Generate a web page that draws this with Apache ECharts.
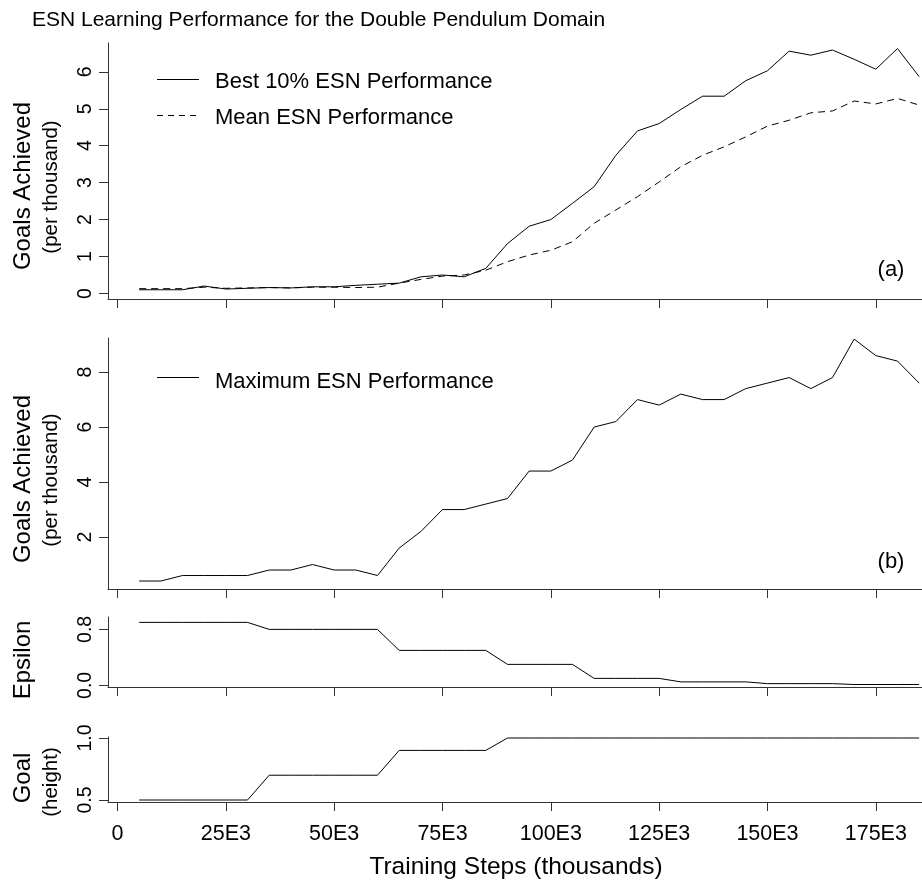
<!DOCTYPE html>
<html>
<head>
<meta charset="utf-8">
<script src="https://cdn.jsdelivr.net/npm/echarts@6/dist/echarts.min.js"></script>
<style>
html,body{margin:0;padding:0;background:#fff;}
#chart{width:922px;height:884px;}
</style>
</head>
<body>
<div id="chart"></div>
<script>
// ---- data (training steps in thousands) ----
const steps = [5,10,15,20,25,30,35,40,45,50,55,60,65,70,75,80,85,90,95,100,105,110,115,120,125,130,135,140,145,150,155,160,165,170,175,180,185];
const best10 = [0.10,0.10,0.10,0.20,0.12,0.14,0.16,0.15,0.18,0.18,0.22,0.25,0.28,0.45,0.50,0.45,0.68,1.35,1.82,2.00,2.44,2.89,3.74,4.40,4.60,4.98,5.34,5.34,5.76,6.03,6.56,6.45,6.59,6.34,6.07,6.63,5.87];
const meanPerf = [0.13,0.13,0.13,0.17,0.14,0.15,0.16,0.15,0.17,0.17,0.16,0.17,0.28,0.38,0.47,0.50,0.63,0.86,1.04,1.17,1.40,1.90,2.26,2.62,3.02,3.43,3.74,3.97,4.24,4.53,4.69,4.89,4.94,5.21,5.13,5.28,5.10];
const maxPerf = [0.4,0.4,0.6,0.6,0.6,0.6,0.8,0.8,1.0,0.8,0.8,0.6,1.6,2.2,3.0,3.0,3.2,3.4,4.4,4.4,4.8,6.0,6.2,7.0,6.8,7.2,7.0,7.0,7.4,7.6,7.8,7.4,7.8,9.2,8.6,8.4,7.6];
const epsilon = [0.9,0.9,0.9,0.9,0.9,0.9,0.8,0.8,0.8,0.8,0.8,0.8,0.5,0.5,0.5,0.5,0.5,0.3,0.3,0.3,0.3,0.1,0.1,0.1,0.1,0.05,0.05,0.05,0.05,0.025,0.025,0.025,0.025,0.0125,0.0125,0.0125,0.0125];
const goalHeight = [0.5,0.5,0.5,0.5,0.5,0.5,0.7,0.7,0.7,0.7,0.7,0.7,0.9,0.9,0.9,0.9,0.9,1.0,1.0,1.0,1.0,1.0,1.0,1.0,1.0,1.0,1.0,1.0,1.0,1.0,1.0,1.0,1.0,1.0,1.0,1.0,1.0];

const xTicks = [0,25,50,75,100,125,150,175];
const yTicksA = [0,1,2,3,4,5,6];
const yTicksB = [2,4,6,8];
const yTicksEps = [0.0,0.8];
const yTicksGoal = [0.5,1.0];

const FONT = "'Liberation Sans', Arial, Helvetica, sans-serif";
const AX = '#333';

function pairs(arr){ return steps.map((s,i)=>[s, arr[i]]); }

const grids = [
  {left:108, top:43,  right:0, height:256},
  {left:108, top:338, right:0, height:251},
  {left:108, top:617, right:0, height:70},
  {left:108, top:737, right:0, height:65}
];

function xAxis(i, showLabels){
  return {
    gridIndex:i, type:'value', min:-2.2, max:185.66,
    axisLine:{show:true, onZero:false, lineStyle:{color:AX, width:1}},
    axisTick:{show:true, inside:false, length:9, customValues:xTicks, lineStyle:{color:AX, width:1}},
    axisLabel:{show:showLabels, customValues:xTicks, margin:21, fontSize:21.5, color:'#000', fontFamily:FONT,
      formatter:v => v===0 ? '0' : (v + 'E3')},
    splitLine:{show:false}
  };
}
function yAxis(i, min, max, ticks, fmt){
  return {
    gridIndex:i, type:'value', min:min, max:max,
    axisLine:{show:true, onZero:false, lineStyle:{color:AX, width:1}},
    axisTick:{show:true, inside:false, length:9, customValues:ticks, lineStyle:{color:AX, width:1}},
    axisLabel:{show:true, rotate:90, margin:12, customValues:ticks, fontSize:19.5, color:'#000', fontFamily:FONT, formatter:fmt},
    splitLine:{show:false}
  };
}

const lineBase = {type:'line', symbol:'none', showSymbol:false, silent:true, animation:false};

function txt(x, y, text, size, opts){
  opts = opts || {};
  return {type:'text', x:x, y:y, rotation:opts.rot||0, silent:true,
    style:{text:text, font: size + 'px ' + FONT, fill:'#000', textAlign:opts.align||'center', textVerticalAlign:'middle'}};
}

const option = {
  backgroundColor:'#fff',
  animation:false,
  grid: grids,
  xAxis: [xAxis(0,false), xAxis(1,false), xAxis(2,false), xAxis(3,true)],
  yAxis: [
    yAxis(0, -0.15, 6.78, yTicksA, v => String(v)),
    yAxis(1, 0.11, 9.24, yTicksB, v => String(v)),
    yAxis(2, -0.023, 0.977, yTicksEps, v => v.toFixed(1)),
    yAxis(3, 0.484, 1.008, yTicksGoal, v => v.toFixed(1))
  ],
  series: [
    Object.assign({}, lineBase, {name:'Best 10% ESN Performance', xAxisIndex:0, yAxisIndex:0, data:pairs(best10), lineStyle:{color:'#000', width:1}}),
    Object.assign({}, lineBase, {name:'Mean ESN Performance', xAxisIndex:0, yAxisIndex:0, data:pairs(meanPerf), lineStyle:{color:'#000', width:1, type:[7,5]}}),
    Object.assign({}, lineBase, {name:'Maximum ESN Performance', xAxisIndex:1, yAxisIndex:1, data:pairs(maxPerf), lineStyle:{color:'#000', width:1}}),
    Object.assign({}, lineBase, {name:'Epsilon', xAxisIndex:2, yAxisIndex:2, data:pairs(epsilon), lineStyle:{color:'#000', width:1}}),
    Object.assign({}, lineBase, {name:'Goal', xAxisIndex:3, yAxisIndex:3, data:pairs(goalHeight), lineStyle:{color:'#000', width:1}})
  ],
  graphic: [
    txt(32, 20, 'ESN Learning Performance for the Double Pendulum Domain', 21, {align:'left'}),
    // y titles
    txt(23, 186, 'Goals Achieved', 24, {rot:Math.PI/2}),
    txt(51, 187, '(per thousand)', 20.5, {rot:Math.PI/2}),
    txt(23, 479, 'Goals Achieved', 24, {rot:Math.PI/2}),
    txt(51, 480, '(per thousand)', 20.5, {rot:Math.PI/2}),
    txt(23, 660, 'Epsilon', 24, {rot:Math.PI/2}),
    txt(23, 778, 'Goal', 24, {rot:Math.PI/2}),
    txt(51, 782, '(height)', 20.5, {rot:Math.PI/2}),
    // legends
    {type:'line', silent:true, shape:{x1:157, y1:79.5, x2:199, y2:79.5}, style:{stroke:'#000', lineWidth:1}},
    txt(215, 81.5, 'Best 10% ESN Performance', 22, {align:'left'}),
    {type:'line', silent:true, shape:{x1:157, y1:115.5, x2:199, y2:115.5}, style:{stroke:'#000', lineWidth:1, lineDash:[6,5]}},
    txt(215, 118, 'Mean ESN Performance', 22, {align:'left'}),
    {type:'line', silent:true, shape:{x1:157, y1:377.5, x2:199, y2:377.5}, style:{stroke:'#000', lineWidth:1}},
    txt(215, 381.5, 'Maximum ESN Performance', 22, {align:'left'}),
    // panel tags
    txt(891, 270, '(a)', 22),
    txt(891, 562, '(b)', 22),
    // x title
    txt(516, 867, 'Training Steps (thousands)', 24.5)
  ]
};

const chart = echarts.init(document.getElementById('chart'), null, {renderer:'canvas'});
chart.setOption(option);
</script>
</body>
</html>
